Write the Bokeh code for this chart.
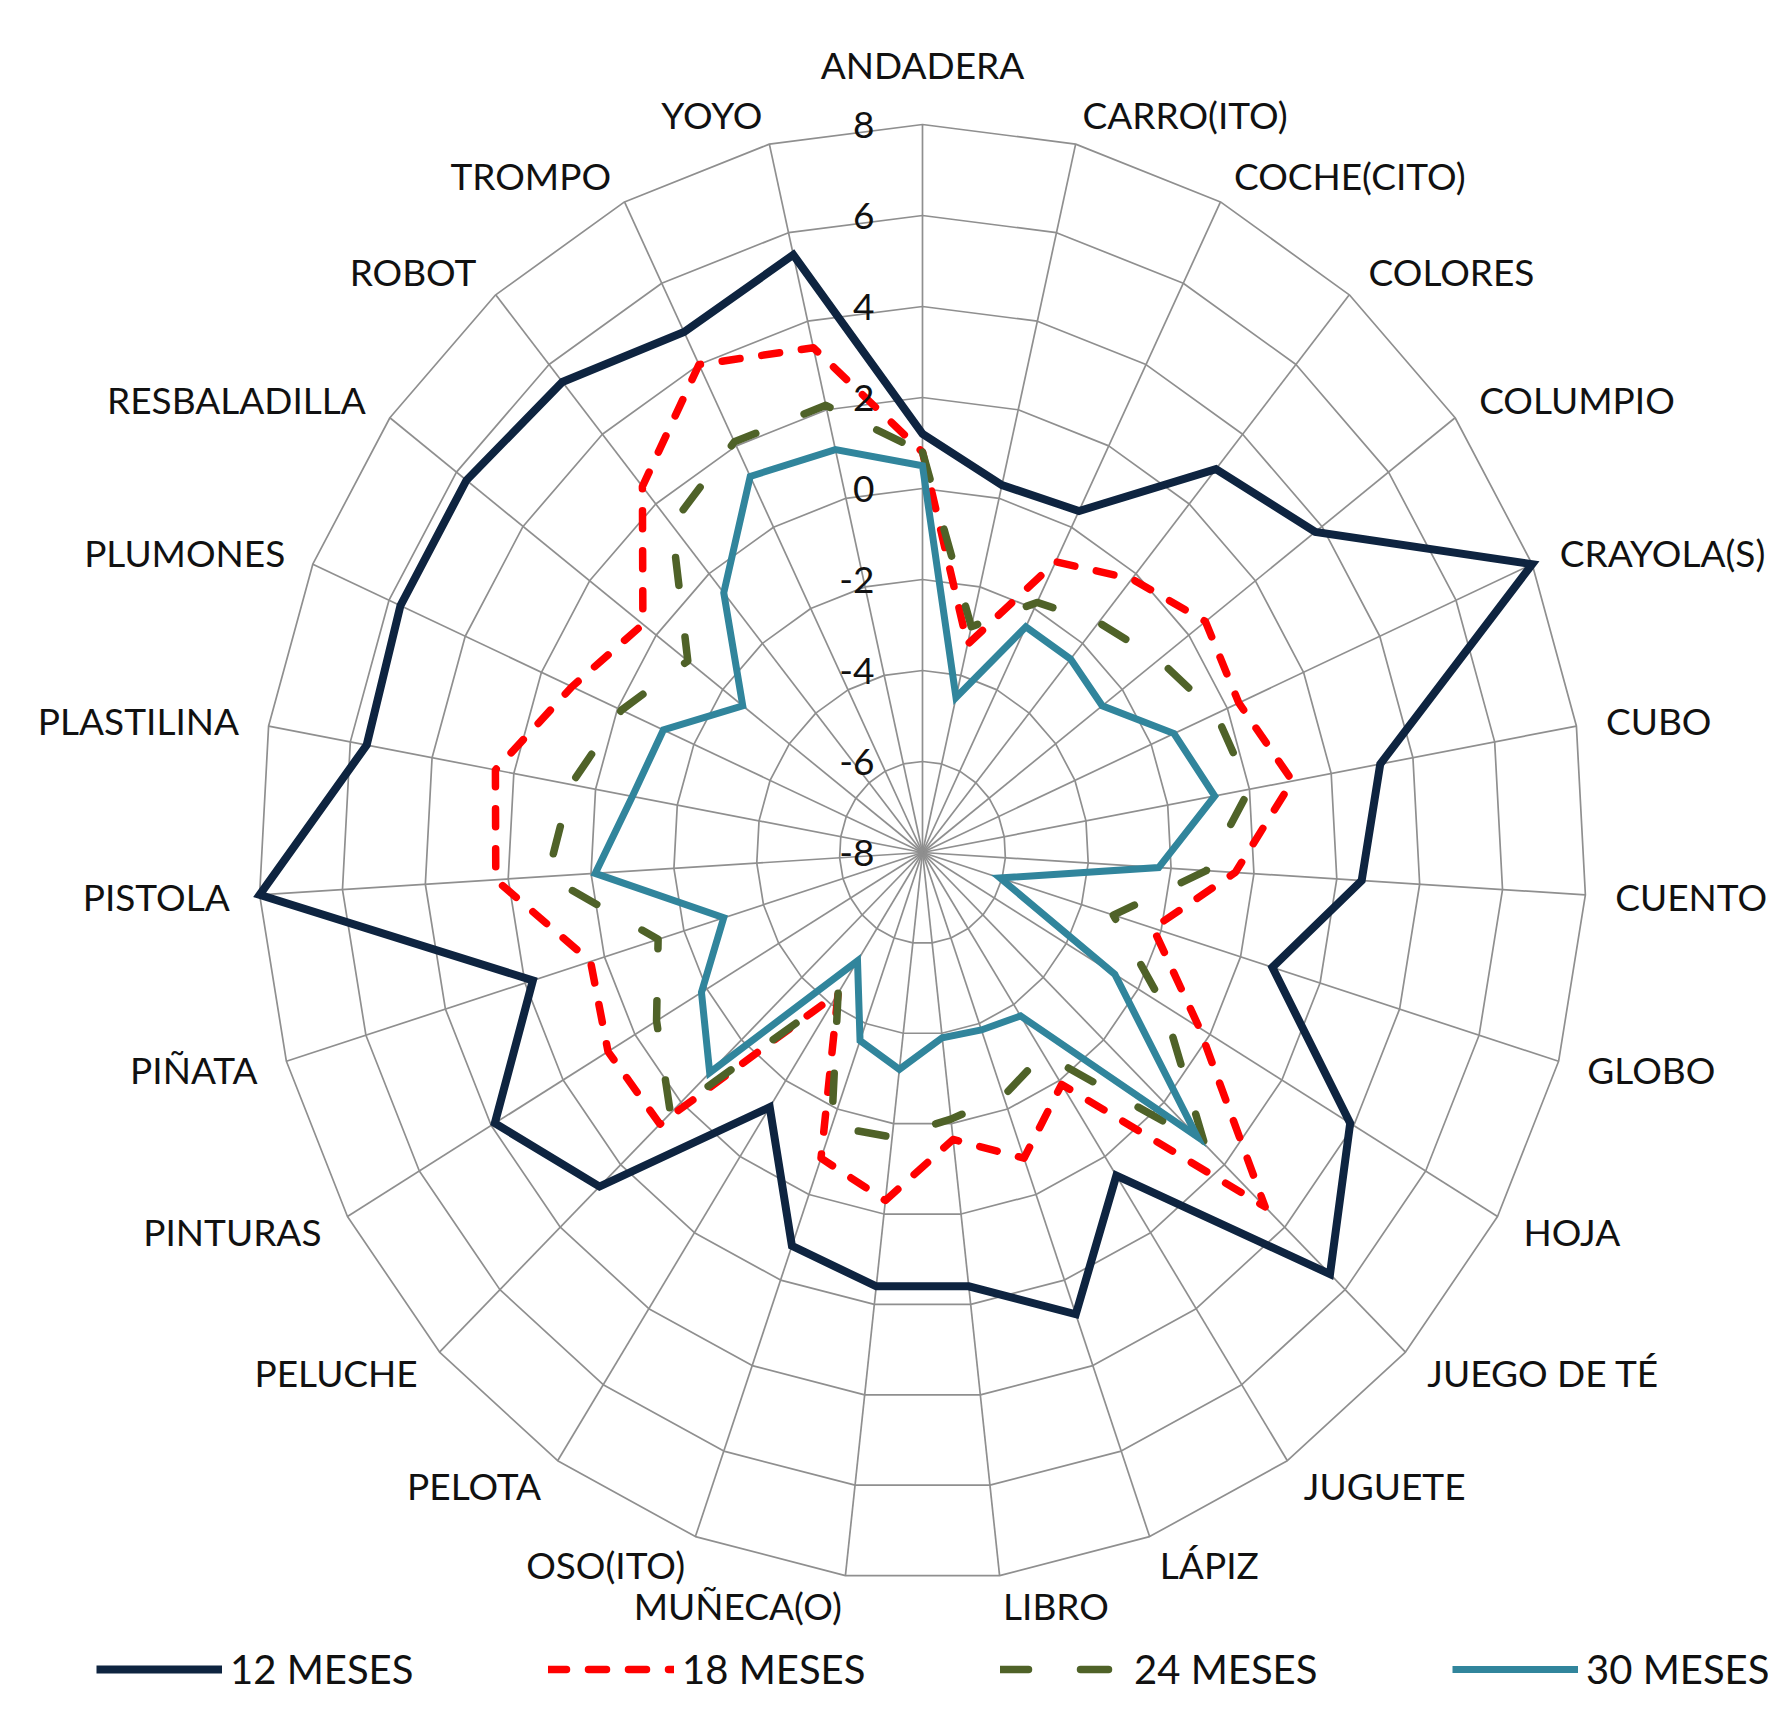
import numpy as np
from bokeh.plotting import figure
from bokeh.models import Range1d, ColumnDataSource, Legend, LegendItem
from bokeh.core.properties import value, field
from bokeh.embed import file_html
from bokeh.resources import INLINE

# ---------------- data ----------------
categories = ["ANDADERA", "CARRO(ITO)", "COCHE(CITO)", "COLORES", "COLUMPIO",
              "CRAYOLA(S)", "CUBO", "CUENTO", "GLOBO", "HOJA", "JUEGO DE TÉ",
              "JUGUETE", "LÁPIZ", "LIBRO", "MUÑECA(O)", "OSO(ITO)", "PELOTA",
              "PELUCHE", "PINTURAS", "PIÑATA", "PISTOLA", "PLASTILINA",
              "PLUMONES", "RESBALADILLA", "ROBOT", "TROMPO", "YOYO"]

meses_12 = [1.2, 0.3, 0.4, 3.0, 3.8, 8.0, 3.2, 2.6, 0.8, 3.9, 5.5, 0.5, 2.8,
            1.6, 1.6, 1.2, -1.3, 2.7, 3.9, 1.8, 8.0, 5.6, 5.7, 5.7, 5.5, 4.8, 5.5]
meses_18 = [0.8, -3.3, -0.85, -0.15, 0.5, 0.3, 1.05, -0.45, -2.2, -0.3, 3.35,
            -1.9, -0.85, -1.65, -0.3, -0.85, -4.3, 0.7, 0.75, 0.35, 2.3, 2.45,
            1.2, 0.4, 2.5, 4.0, 3.4]
meses_24 = [0.8, -2.9, -1.85, -1.4, -0.9, -0.3, 0.0, -1.15, -3.2, -1.3, 1.35,
            -2.7, -2.3, -2.1, -1.7, -1.6, -4.3, 0.35, -0.6, -1.35, 1.05, 0.6,
            -0.1, -0.95, 1.4, 2.1, 2.1]
meses_30 = [0.5, -4.5, -2.45, -2.45, -2.6, -1.4, -0.85, -2.3, -6.05, -2.65, 1.1,
            -3.7, -3.85, -3.9, -3.2, -3.6, -5.15, -0.95, -1.85, -3.0, -0.1, -0.9,
            -1.2, -2.6, -0.55, 1.25, 1.1]

series_names = ["12 MESES", "18 MESES", "24 MESES", "30 MESES"]
tick_values = [-8, -6, -4, -2, 0, 2, 4, 6, 8]
tick_labels = ["-8", "-6", "-4", "-2", "0", "2", "4", "6", "8"]

# ---------------- layout / styles ----------------
W, H = 1768, 1693
CX, CY = 922, 852          # centre of the radar in canvas px
RX, RY = 664, 728          # outer radius in px (x / y)
R_MIN, R_MAX = tick_values[0], tick_values[-1]
SPAN = R_MAX - R_MIN
sx, sy = RX / SPAN, RY / SPAN   # px per data unit

FONT = "Lato"
GRID = "#8f8f8f"
TXT = "#111111"

p = figure(width=W, height=H, output_backend="svg", toolbar_location=None,
           x_range=Range1d(-CX / sx, (W - CX) / sx),
           y_range=Range1d(-(H - CY) / sy, CY / sy),
           x_axis_type=None, y_axis_type=None, min_border=0)
p.grid.visible = False
p.outline_line_color = None
p.background_fill_color = "white"

n = len(categories)
theta = 2 * np.pi * np.arange(n) / n
s, c = np.sin(theta), np.cos(theta)

# rings (closed polygons)
ring_xs, ring_ys = [], []
for tv in tick_values[1:]:
    r = tv - R_MIN
    ring_xs.append(list(r * s))
    ring_ys.append(list(r * c))
p.patches(ring_xs, ring_ys, fill_color=None, line_color=GRID, line_width=1.7)

# spokes
p.segment(x0=np.zeros(n), y0=np.zeros(n), x1=SPAN * s, y1=SPAN * c,
          line_color=GRID, line_width=1.7)

# series (closed outlines)
styles = [
    dict(line_color="#0e2440", line_width=8, line_join="miter"),
    dict(line_color="#ff0000", line_width=7.5, line_dash="18 22", line_cap="round", line_join="round"),
    dict(line_color="#4f6228", line_width=7.5, line_dash="28 52", line_cap="round", line_join="round"),
    dict(line_color="#31859c", line_width=7, line_join="miter"),
]
legend_renderers = []
for vals, st in zip([meses_12, meses_18, meses_24, meses_30], styles):
    r = np.array(vals) - R_MIN
    p.patch(r * s, r * c, fill_color=None, **st)
    # a line without drawable points, same style, used as the legend glyph
    legend_renderers.append(p.line([np.nan, np.nan], [np.nan, np.nan], **st))

# category labels
gap = np.where(np.arange(n) == 0, 60.0, 30.0)
lx = SPAN * s + gap * s / sx
ly = SPAN * c + gap * c / sy
align = ["center" if abs(v) < 1e-6 else ("left" if v > 0 else "right") for v in s]
cat_src = ColumnDataSource(dict(x=lx, y=ly, text=categories, align=align))
p.text(x="x", y="y", text="text", source=cat_src, text_align=field("align"),
       text_baseline="middle", text_font=value(FONT),
       text_font_size=value("37px"), text_color=TXT)

# radial tick labels
tick_src = ColumnDataSource(dict(
    x=[-48.0 / sx] * len(tick_values),
    y=[tv - R_MIN for tv in tick_values],
    text=tick_labels))
p.text(x="x", y="y", text="text", source=tick_src, text_align="right",
       text_baseline="middle", text_font=value(FONT),
       text_font_size=value("37px"), text_color=TXT)

# legend
legend = Legend(items=[LegendItem(label=nm, renderers=[rr])
                       for nm, rr in zip(series_names, legend_renderers)],
                orientation="horizontal", location=(96, 0),
                glyph_width=126, glyph_height=40, label_standoff=8,
                label_width=250, label_height=40, spacing=68,
                padding=0, margin=0, border_line_color=None,
                background_fill_alpha=0,
                label_text_font=FONT, label_text_font_size="40px",
                label_text_color=TXT)
p.add_layout(legend)

open("out.html", "w").write(file_html(p, INLINE))
